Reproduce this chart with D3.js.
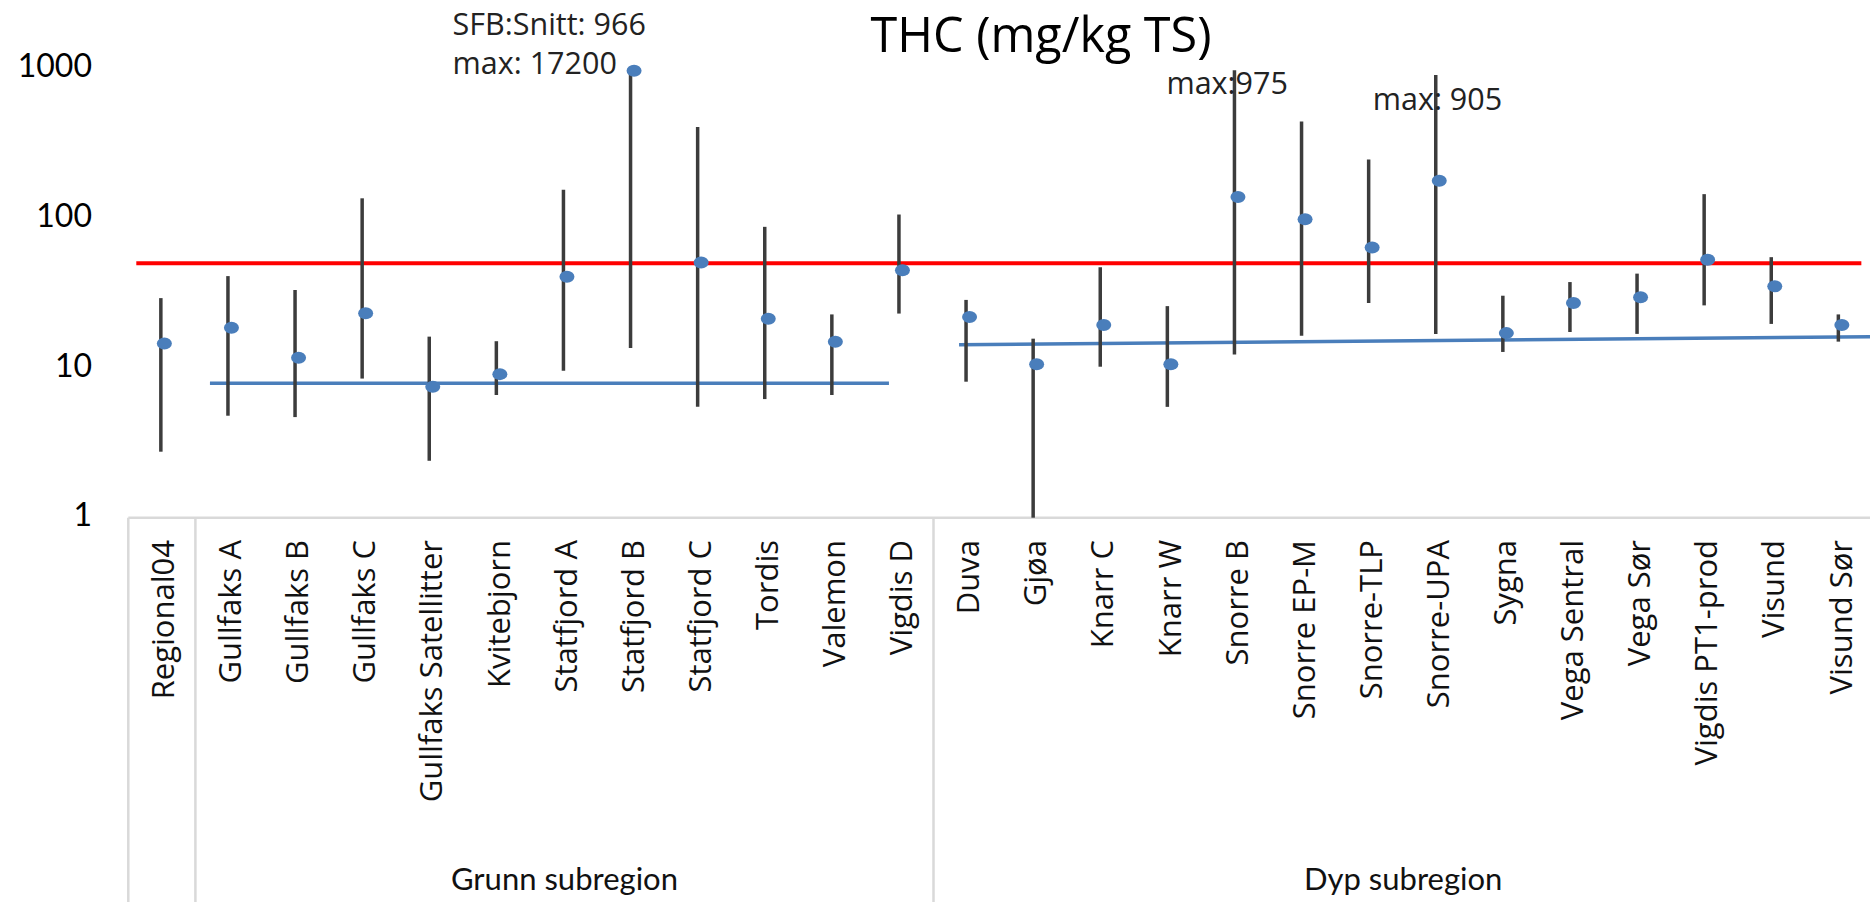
<!DOCTYPE html>
<html>
<head>
<meta charset="utf-8">
<script src="https://cdn.jsdelivr.net/npm/d3@7/dist/d3.min.js"></script>
<style>
  html, body { margin: 0; padding: 0; background: #ffffff; }
  svg { display: block; }
</style>
</head>
<body>
<svg id="chart" width="1870" height="902"></svg>
<script>
// ---------------- DATA ----------------
const categories = [
  "Regional04", "Gullfaks A", "Gullfaks B", "Gullfaks C", "Gullfaks Satellitter",
  "Kvitebjorn", "Statfjord A", "Statfjord B", "Statfjord C", "Tordis", "Valemon",
  "Vigdis D", "Duva", "Gjøa", "Knarr C", "Knarr W", "Snorre B", "Snorre EP-M",
  "Snorre-TLP", "Snorre-UPA", "Sygna", "Vega Sentral", "Vega Sør",
  "Vigdis PT1-prod", "Visund", "Visund Sør"
];
const meanValues = [14.6, 18.6, 11.7, 23.2, 7.5, 9.1, 40.7, 966, 50.7, 21.3, 15.0,
  44.9, 21.9, 10.6, 19.4, 10.6, 139, 98.5, 63.8, 178, 17.1, 27.2, 29.7, 52.9, 35.1, 19.4];
const minValues = [2.76, 4.8, 4.7, 8.5, 2.4, 6.6, 9.6, 13.6, 5.5, 6.2, 6.6,
  23.1, 8.1, 1.0, 10.2, 5.5, 12.3, 16.4, 27.2, 16.9, 12.8, 17.4, 16.9, 26.2, 19.7, 15.0];
const maxValues = [29.3, 41.1, 33.2, 136, 16.2, 15.1, 155, 17200, 408, 87.7, 22.8,
  106, 28.5, 15.7, 47.1, 25.9, 975, 443, 247, 905, 30.4, 37.5, 42.7, 145, 55, 22.8];

const groupNames = ["", "Grunn subregion", "Dyp subregion"];
const groupStart = ["Regional04", "Gullfaks A", "Duva"];
const groupEnd = ["Regional04", "Vigdis D", "Visund Sør"];

const yTicks = [1, 10, 100, 1000];
const limitValue = 50;                 // red line
const grunnLineValue = 7.9;            // Grunn subregion blue line
const dypLineValues = [14.3, 16.2];    // Dyp subregion blue line (start, end)

const annotations = [
  { cat: "Statfjord B", lines: ["SFB:Snitt: 966", "max: 17200"] },
  { cat: "Snorre B", lines: ["max:975"] },
  { cat: "Snorre-UPA", lines: ["max: 905"] }
];
const titleText = "THC (mg/kg TS)";

// ---------------- LAYOUT ----------------
const svg = d3.select("#chart");
const plotLeft = 128.3, band = 67.1;
const axisY = 517.7, topY = 68.6;
const bottomY = 902;

const x = d3.scaleBand().domain(categories).range([plotLeft, plotLeft + band * categories.length]).padding(0);
const y = d3.scaleLog().domain([1, 1000]).range([axisY, topY]).clamp(true);
const cx = c => x(c) + x.bandwidth() / 2;

const frameColor = "#d9d9d9";
const blue = "#4a7ebb";

// Title
svg.append("text")
  .attr("x", 1041).attr("y", 52)
  .attr("text-anchor", "middle")
  .style("font-family", "'Open Sans', sans-serif")
  .style("font-size", "48.5px")
  .attr("fill", "#000")
  .text(titleText);

// Y tick labels
const yAxis = d3.axisLeft(y).tickValues(yTicks).tickFormat(d3.format("d")).tickSize(0).tickPadding(0);
const gy = svg.append("g").attr("transform", `translate(92,-2)`).call(yAxis);
gy.select(".domain").remove();
gy.selectAll("text")
  .style("font-family", "Lato, sans-serif")
  .style("font-size", "32px")
  .attr("fill", "#000");

// Axis frame (multi-level category axis)
const frame = svg.append("g").attr("stroke", frameColor).attr("stroke-width", 2.5).attr("fill", "none");
frame.append("line").attr("x1", plotLeft).attr("x2", 1870).attr("y1", axisY).attr("y2", axisY);
frame.append("line").attr("x1", plotLeft).attr("x2", plotLeft).attr("y1", axisY).attr("y2", bottomY);
groupStart.slice(1).forEach(c => {
  frame.append("line").attr("x1", x(c)).attr("x2", x(c)).attr("y1", axisY).attr("y2", bottomY);
});

// Category labels
svg.append("g").selectAll("text").data(categories).join("text")
  .attr("transform", d => `translate(${cx(d) + 1},540) rotate(-90)`)
  .attr("text-anchor", "end")
  .attr("dy", "0.36em")
  .style("font-family", "'Open Sans', sans-serif")
  .style("font-size", "31px")
  .attr("fill", "#111")
  .text(d => d);

// Group labels
svg.append("g").selectAll("text").data(groupNames.map((n, i) => ({ n, i })).filter(d => d.n)).join("text")
  .attr("x", d => (x(groupStart[d.i]) + x(groupEnd[d.i]) + x.bandwidth()) / 2)
  .attr("y", 890)
  .attr("text-anchor", "middle")
  .style("font-family", "Lato, sans-serif")
  .style("font-size", "31px")
  .attr("fill", "#111")
  .text(d => d.n);

// Red limit line
svg.append("line")
  .attr("x1", x("Regional04") + 8).attr("x2", cx("Visund Sør") + 22)
  .attr("y1", y(limitValue)).attr("y2", y(limitValue))
  .attr("stroke", "#ff0000").attr("stroke-width", 4);

// Blue subregion lines
svg.append("line")
  .attr("x1", cx("Gullfaks A") - 19).attr("x2", cx("Vigdis D") - 11)
  .attr("y1", y(grunnLineValue)).attr("y2", y(grunnLineValue))
  .attr("stroke", blue).attr("stroke-width", 3.5);
svg.append("line")
  .attr("x1", cx("Duva") - 8).attr("x2", x("Visund Sør") + x.bandwidth())
  .attr("y1", y(dypLineValues[0])).attr("y2", y(dypLineValues[1]))
  .attr("stroke", blue).attr("stroke-width", 3.5);

// Range whiskers
const rows = categories.map((c, i) => ({ c, mean: meanValues[i], min: minValues[i], max: maxValues[i] }));
svg.append("g").selectAll("line").data(rows).join("line")
  .attr("x1", d => cx(d.c) - 1).attr("x2", d => cx(d.c) - 1)
  .attr("y1", d => y(d.min)).attr("y2", d => y(d.max))
  .attr("stroke", "#3c3c3c").attr("stroke-width", 3.5);

// Mean markers
svg.append("g").selectAll("ellipse").data(rows).join("ellipse")
  .attr("cx", d => cx(d.c) + 2.5)
  .attr("cy", d => y(d.mean))
  .attr("rx", 7.5).attr("ry", 6)
  .attr("fill", blue);

// Annotations
const annPos = {
  "Statfjord B": { dx: -179, y0: 35, lh: 39 },
  "Snorre B": { dx: -69, y0: 94, lh: 0 },
  "Snorre-UPA": { dx: -64, y0: 110, lh: 0 }
};
annotations.forEach(a => {
  const p = annPos[a.cat];
  a.lines.forEach((t, k) => {
    svg.append("text")
      .attr("x", cx(a.cat) + p.dx)
      .attr("y", p.y0 + k * p.lh)
      .style("font-family", "'Open Sans', sans-serif")
      .style("font-size", "30.5px")
      .attr("fill", "#222")
      .text(t);
  });
});
</script>
</body>
</html>
